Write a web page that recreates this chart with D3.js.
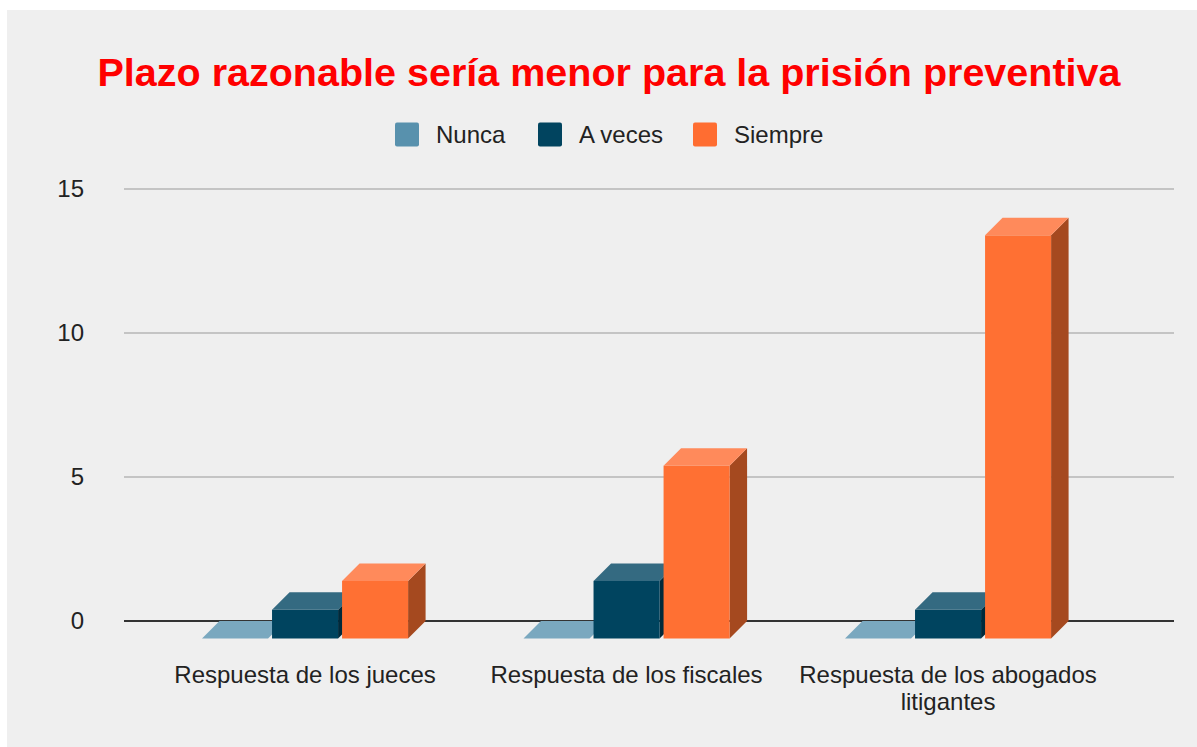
<!DOCTYPE html>
<html>
<head>
<meta charset="utf-8">
<script src="https://cdn.jsdelivr.net/npm/d3@7"></script>
<style>
  html, body { margin: 0; padding: 0; background: #ffffff; }
  svg { display: block; }
  text { font-family: Arial, "Liberation Sans", sans-serif; }
</style>
</head>
<body>
<svg id="chart" width="1197" height="747"></svg>
<script>
const title = "Plazo razonable sería menor para la prisión preventiva";
const categories = [["Respuesta de los jueces"], ["Respuesta de los fiscales"], ["Respuesta de los abogados", "litigantes"]];
const series = ["Nunca", "A veces", "Siempre"];
const nunca = [0, 0, 0];
const aVeces = [1, 2, 1];
const siempre = [2, 6, 14];
const yTicks = [0, 5, 10, 15];

const frontColors = ["#5b93b0", "#00445f", "#ff7033"];
const topColors = ["#7aa8bf", "#346a81", "#ff8a5b"];
const sideColors = ["#3f6f86", "#002a3b", "#a5491f"];
const legendColors = ["#5891ad", "#01445f", "#ff6d31"];

const values = [nunca, aVeces, siempre];
const svg = d3.select("#chart");

svg.append("rect").attr("x", 7).attr("y", 10).attr("width", 1190).attr("height", 737).attr("fill", "#efefef");

// Title
svg.append("text").attr("x", 609).attr("y", 86).attr("text-anchor", "middle")
  .attr("font-size", 39.5).attr("font-weight", "bold").attr("fill", "#ff0000").text(title);

// Legend
const legendPos = [395, 538, 693];
const lg = svg.append("g");
series.forEach((s, i) => {
  lg.append("rect").attr("x", legendPos[i]).attr("y", 122.5).attr("width", 24).attr("height", 24)
    .attr("rx", 2).attr("fill", legendColors[i]);
  lg.append("text").attr("x", legendPos[i] + 41).attr("y", 143).attr("font-size", 24)
    .attr("fill", "#222").text(s);
});

// Scales
const y = d3.scaleLinear().domain([0, 15]).range([621, 189]);
const catKeys = categories.map(c => c.join(" "));
const x0 = d3.scaleBand().domain(catKeys).range([144.3, 1108.8]).paddingInner(0.359).paddingOuter(0.1795);
const x1 = d3.scaleBand().domain(series).range([0, x0.bandwidth()]).paddingInner(4 / 70).paddingOuter(0);
const depth = 17.5;

// Grid
const gridX0 = 124, gridX1 = 1174;
yTicks.forEach(t => {
  svg.append("line").attr("x1", gridX0).attr("x2", gridX1).attr("y1", y(t)).attr("y2", y(t))
    .attr("stroke", t === 0 ? "#333333" : "#c4c4c4").attr("stroke-width", t === 0 ? 1.8 : 2);
});

// Y axis labels via d3 axis
const yAxis = svg.append("g").attr("transform", "translate(84,0)")
  .call(d3.axisLeft(y).tickValues(yTicks).tickSize(0).tickPadding(0));
yAxis.select(".domain").remove();
yAxis.selectAll("text").attr("font-size", 24).attr("fill", "#222")
  .attr("font-family", "Arial, 'Liberation Sans', sans-serif");

// Bars (3D)
const bars = svg.append("g");
catKeys.forEach((c, gi) => {
  series.forEach((s, si) => {
    const v = values[si][gi];
    const bx = x0(c) + x1(s);
    const w = x1.bandwidth();
    const yb = y(0) + depth;
    const yt = y(v) + depth;
    // side
    bars.append("polygon")
      .attr("points", [[bx + w, yt], [bx + w + depth, yt - depth], [bx + w + depth, yb - depth], [bx + w, yb]].map(p => p.join(",")).join(" "))
      .attr("fill", sideColors[si]);
    // front
    bars.append("rect").attr("x", bx).attr("y", yt).attr("width", w).attr("height", yb - yt)
      .attr("fill", frontColors[si]);
    // top
    bars.append("polygon")
      .attr("points", [[bx, yt], [bx + depth, yt - depth], [bx + w + depth, yt - depth], [bx + w, yt]].map(p => p.join(",")).join(" "))
      .attr("fill", topColors[si]);
  });
});

// X labels
categories.forEach((lines, gi) => {
  const cx = x0(catKeys[gi]) + x0.bandwidth() / 2;
  const t = svg.append("text").attr("text-anchor", "middle").attr("font-size", 24).attr("fill", "#222");
  lines.forEach((ln, li) => {
    t.append("tspan").attr("x", cx).attr("y", 683 + li * 27).text(ln);
  });
});
</script>
</body>
</html>
